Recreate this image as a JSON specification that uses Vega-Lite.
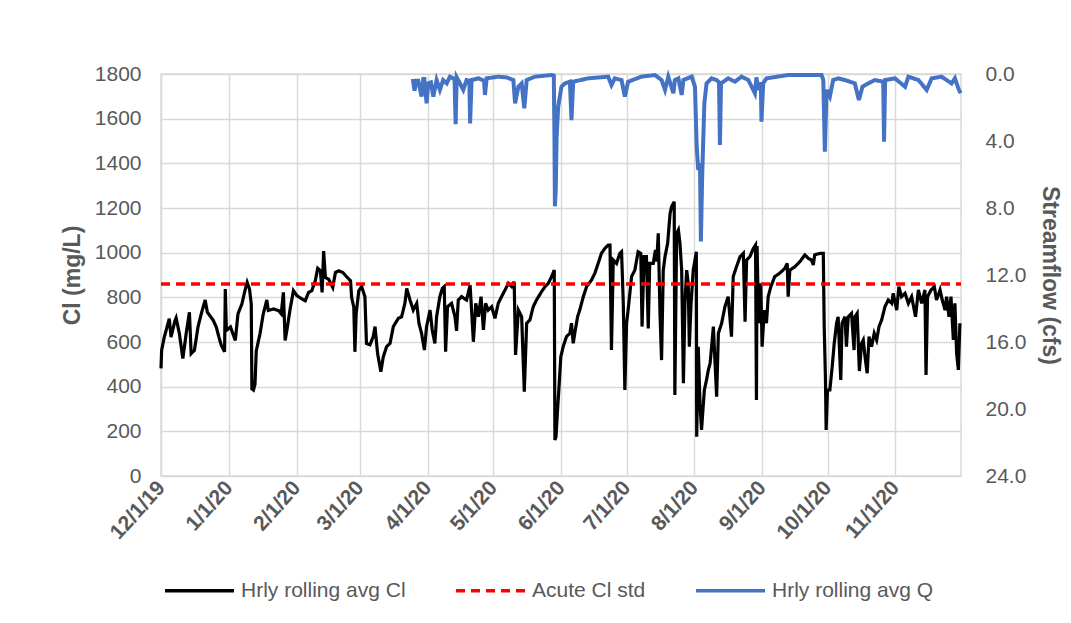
{
  "$schema": "https://vega.github.io/schema/vega-lite/v6.json",
  "width": 800,
  "height": 402,
  "autosize": "none",
  "padding": {"left": 161, "top": 74, "right": 110, "bottom": 147},
  "background": "white",
  "config": {
    "font": "Liberation Sans",
    "view": {"stroke": "#d9d9d9", "strokeWidth": 1.5},
    "axis": {
      "labelColor": "#595959", "titleColor": "#595959",
      "labelFont": "Liberation Sans", "titleFont": "Liberation Sans",
      "labelFontSize": 21, "titleFontSize": 23, "titleFontWeight": "bold",
      "gridColor": "#d9d9d9", "gridWidth": 1.5,
      "ticks": false, "tickSize": 0, "domain": false
    }
  },
  "datasets": {
    "cl": [
      {"date":"2019-12-01T00:00","value":482},{"date":"2019-12-01T07:00","value":563},{"date":"2019-12-02T12:00","value":622},{"date":"2019-12-04T19:00","value":704},{"date":"2019-12-05T14:00","value":622},{"date":"2019-12-07T10:00","value":696},{"date":"2019-12-07T22:00","value":708},{"date":"2019-12-09T10:00","value":637},{"date":"2019-12-11T00:00","value":526},{"date":"2019-12-12T12:00","value":637},{"date":"2019-12-14T00:00","value":733},{"date":"2019-12-14T19:00","value":548},{"date":"2019-12-16T07:00","value":563},{"date":"2019-12-17T22:00","value":667},{"date":"2019-12-19T10:00","value":726},{"date":"2019-12-21T05:00","value":788},{"date":"2019-12-22T05:00","value":733},{"date":"2019-12-24T19:00","value":699},{"date":"2019-12-26T07:00","value":667},{"date":"2019-12-27T12:00","value":622},{"date":"2019-12-28T14:00","value":585},{"date":"2019-12-30T02:00","value":556},{"date":"2019-12-30T10:00","value":837},{"date":"2019-12-30T22:00","value":652},{"date":"2020-01-01T19:00","value":667},{"date":"2020-01-04T00:00","value":607},{"date":"2020-01-05T05:00","value":726},{"date":"2020-01-07T00:00","value":770},{"date":"2020-01-08T05:00","value":822},{"date":"2020-01-09T10:00","value":867},{"date":"2020-01-10T12:00","value":837},{"date":"2020-01-11T07:00","value":770},{"date":"2020-01-11T14:00","value":390},{"date":"2020-01-12T07:00","value":385},{"date":"2020-01-13T00:00","value":410},{"date":"2020-01-13T14:00","value":560},{"date":"2020-01-15T07:00","value":637},{"date":"2020-01-16T19:00","value":726},{"date":"2020-01-18T10:00","value":788},{"date":"2020-01-19T02:00","value":741},{"date":"2020-01-21T10:00","value":748},{"date":"2020-01-23T17:00","value":741},{"date":"2020-01-25T00:00","value":726},{"date":"2020-01-26T00:00","value":822},{"date":"2020-01-26T19:00","value":607},{"date":"2020-01-27T14:00","value":652},{"date":"2020-01-29T02:00","value":748},{"date":"2020-01-30T14:00","value":830},{"date":"2020-02-01T05:00","value":807},{"date":"2020-02-03T12:00","value":793},{"date":"2020-02-05T00:00","value":785},{"date":"2020-02-06T12:00","value":822},{"date":"2020-02-08T00:00","value":830},{"date":"2020-02-09T14:00","value":874},{"date":"2020-02-10T17:00","value":930},{"date":"2020-02-11T22:00","value":919},{"date":"2020-02-12T17:00","value":822},{"date":"2020-02-13T10:00","value":1007},{"date":"2020-02-14T05:00","value":889},{"date":"2020-02-15T17:00","value":881},{"date":"2020-02-17T14:00","value":844},{"date":"2020-02-18T19:00","value":911},{"date":"2020-02-20T07:00","value":919},{"date":"2020-02-22T05:00","value":911},{"date":"2020-02-24T05:00","value":889},{"date":"2020-02-25T17:00","value":874},{"date":"2020-02-26T05:00","value":800},{"date":"2020-02-27T05:00","value":756},{"date":"2020-02-27T17:00","value":556},{"date":"2020-02-28T07:00","value":726},{"date":"2020-02-29T12:00","value":830},{"date":"2020-03-01T19:00","value":848},{"date":"2020-03-03T07:00","value":803},{"date":"2020-03-04T00:00","value":594},{"date":"2020-03-05T14:00","value":587},{"date":"2020-03-07T02:00","value":624},{"date":"2020-03-07T22:00","value":669},{"date":"2020-03-09T02:00","value":549},{"date":"2020-03-10T14:00","value":467},{"date":"2020-03-11T17:00","value":534},{"date":"2020-03-13T05:00","value":579},{"date":"2020-03-14T19:00","value":594},{"date":"2020-03-16T07:00","value":669},{"date":"2020-03-18T14:00","value":706},{"date":"2020-03-20T02:00","value":713},{"date":"2020-03-21T14:00","value":773},{"date":"2020-03-22T10:00","value":840},{"date":"2020-03-23T22:00","value":788},{"date":"2020-03-25T10:00","value":743},{"date":"2020-03-27T00:00","value":773},{"date":"2020-03-28T00:00","value":684},{"date":"2020-03-29T05:00","value":639},{"date":"2020-03-30T12:00","value":564},{"date":"2020-03-31T12:00","value":669},{"date":"2020-04-02T02:00","value":743},{"date":"2020-04-03T02:00","value":654},{"date":"2020-04-04T07:00","value":594},{"date":"2020-04-05T02:00","value":713},{"date":"2020-04-06T14:00","value":803},{"date":"2020-04-07T17:00","value":840},{"date":"2020-04-08T14:00","value":848},{"date":"2020-04-09T05:00","value":557},{"date":"2020-04-10T02:00","value":758},{"date":"2020-04-11T22:00","value":773},{"date":"2020-04-13T12:00","value":713},{"date":"2020-04-14T05:00","value":650},{"date":"2020-04-15T00:00","value":788},{"date":"2020-04-16T12:00","value":803},{"date":"2020-04-18T19:00","value":788},{"date":"2020-04-20T10:00","value":855},{"date":"2020-04-21T02:00","value":743},{"date":"2020-04-21T22:00","value":601},{"date":"2020-04-23T00:00","value":773},{"date":"2020-04-24T05:00","value":713},{"date":"2020-04-25T10:00","value":803},{"date":"2020-04-26T12:00","value":654},{"date":"2020-04-27T12:00","value":773},{"date":"2020-04-28T17:00","value":743},{"date":"2020-04-30T07:00","value":758},{"date":"2020-05-01T19:00","value":706},{"date":"2020-05-03T07:00","value":773},{"date":"2020-05-04T19:00","value":803},{"date":"2020-05-06T10:00","value":833},{"date":"2020-05-07T22:00","value":863},{"date":"2020-05-09T10:00","value":848},{"date":"2020-05-10T14:00","value":870},{"date":"2020-05-11T05:00","value":542},{"date":"2020-05-12T12:00","value":743},{"date":"2020-05-14T00:00","value":713},{"date":"2020-05-15T05:00","value":378},{"date":"2020-05-16T07:00","value":684},{"date":"2020-05-17T19:00","value":699},{"date":"2020-05-19T07:00","value":758},{"date":"2020-05-20T19:00","value":788},{"date":"2020-05-23T02:00","value":825},{"date":"2020-05-24T17:00","value":848},{"date":"2020-05-26T05:00","value":863},{"date":"2020-05-27T17:00","value":893},{"date":"2020-05-28T22:00","value":922},{"date":"2020-05-29T05:00","value":161},{"date":"2020-05-29T17:00","value":176},{"date":"2020-05-30T10:00","value":295},{"date":"2020-05-31T00:00","value":385},{"date":"2020-05-31T22:00","value":534},{"date":"2020-06-02T00:00","value":579},{"date":"2020-06-03T12:00","value":624},{"date":"2020-06-05T02:00","value":639},{"date":"2020-06-05T19:00","value":684},{"date":"2020-06-06T14:00","value":594},{"date":"2020-06-07T07:00","value":639},{"date":"2020-06-08T14:00","value":713},{"date":"2020-06-09T14:00","value":743},{"date":"2020-06-11T05:00","value":803},{"date":"2020-06-12T17:00","value":848},{"date":"2020-06-15T00:00","value":878},{"date":"2020-06-16T12:00","value":908},{"date":"2020-06-18T00:00","value":952},{"date":"2020-06-19T12:00","value":997},{"date":"2020-06-21T02:00","value":1019},{"date":"2020-06-22T14:00","value":1034},{"date":"2020-06-23T10:00","value":1034},{"date":"2020-06-24T02:00","value":564},{"date":"2020-06-24T22:00","value":967},{"date":"2020-06-26T10:00","value":952},{"date":"2020-06-27T22:00","value":997},{"date":"2020-06-28T17:00","value":1004},{"date":"2020-06-29T12:00","value":773},{"date":"2020-06-30T05:00","value":385},{"date":"2020-07-01T00:00","value":684},{"date":"2020-07-01T17:00","value":743},{"date":"2020-07-03T07:00","value":893},{"date":"2020-07-04T19:00","value":922},{"date":"2020-07-06T07:00","value":1004},{"date":"2020-07-07T12:00","value":997},{"date":"2020-07-08T02:00","value":669},{"date":"2020-07-09T00:00","value":982},{"date":"2020-07-10T02:00","value":982},{"date":"2020-07-10T22:00","value":661},{"date":"2020-07-11T14:00","value":952},{"date":"2020-07-13T05:00","value":952},{"date":"2020-07-14T05:00","value":1012},{"date":"2020-07-14T19:00","value":960},{"date":"2020-07-15T12:00","value":1087},{"date":"2020-07-16T07:00","value":728},{"date":"2020-07-17T00:00","value":519},{"date":"2020-07-17T19:00","value":922},{"date":"2020-07-18T14:00","value":982},{"date":"2020-07-19T19:00","value":1042},{"date":"2020-07-20T22:00","value":1176},{"date":"2020-07-21T14:00","value":1206},{"date":"2020-07-22T10:00","value":1221},{"date":"2020-07-22T19:00","value":1228},{"date":"2020-07-23T02:00","value":363},{"date":"2020-07-23T22:00","value":1087},{"date":"2020-07-24T17:00","value":1102},{"date":"2020-07-25T10:00","value":1042},{"date":"2020-07-26T05:00","value":922},{"date":"2020-07-27T00:00","value":415},{"date":"2020-07-27T17:00","value":773},{"date":"2020-07-28T12:00","value":922},{"date":"2020-07-29T05:00","value":863},{"date":"2020-07-29T17:00","value":579},{"date":"2020-07-30T12:00","value":773},{"date":"2020-07-31T12:00","value":922},{"date":"2020-08-01T07:00","value":967},{"date":"2020-08-01T22:00","value":1004},{"date":"2020-08-02T02:00","value":176},{"date":"2020-08-02T19:00","value":579},{"date":"2020-08-03T14:00","value":325},{"date":"2020-08-04T07:00","value":206},{"date":"2020-08-05T14:00","value":385},{"date":"2020-08-06T14:00","value":430},{"date":"2020-08-07T10:00","value":475},{"date":"2020-08-08T05:00","value":504},{"date":"2020-08-08T22:00","value":579},{"date":"2020-08-09T17:00","value":669},{"date":"2020-08-10T10:00","value":519},{"date":"2020-08-11T05:00","value":355},{"date":"2020-08-12T00:00","value":639},{"date":"2020-08-13T12:00","value":684},{"date":"2020-08-15T00:00","value":758},{"date":"2020-08-16T12:00","value":803},{"date":"2020-08-18T00:00","value":624},{"date":"2020-08-18T19:00","value":893},{"date":"2020-08-20T07:00","value":937},{"date":"2020-08-21T22:00","value":982},{"date":"2020-08-23T10:00","value":997},{"date":"2020-08-24T05:00","value":691},{"date":"2020-08-24T22:00","value":967},{"date":"2020-08-26T10:00","value":982},{"date":"2020-08-28T00:00","value":1019},{"date":"2020-08-29T00:00","value":1034},{"date":"2020-08-29T10:00","value":340},{"date":"2020-08-29T17:00","value":1030},{"date":"2020-08-30T05:00","value":773},{"date":"2020-08-30T17:00","value":684},{"date":"2020-08-31T10:00","value":863},{"date":"2020-09-01T00:00","value":579},{"date":"2020-09-02T00:00","value":743},{"date":"2020-09-03T00:00","value":684},{"date":"2020-09-03T19:00","value":803},{"date":"2020-09-05T00:00","value":848},{"date":"2020-09-06T19:00","value":893},{"date":"2020-09-09T02:00","value":908},{"date":"2020-09-11T10:00","value":930},{"date":"2020-09-12T12:00","value":952},{"date":"2020-09-12T22:00","value":803},{"date":"2020-09-13T17:00","value":922},{"date":"2020-09-16T00:00","value":937},{"date":"2020-09-18T07:00","value":960},{"date":"2020-09-20T14:00","value":990},{"date":"2020-09-22T02:00","value":975},{"date":"2020-09-23T14:00","value":967},{"date":"2020-09-24T10:00","value":945},{"date":"2020-09-25T02:00","value":990},{"date":"2020-09-27T10:00","value":997},{"date":"2020-09-29T00:00","value":997},{"date":"2020-09-29T10:00","value":669},{"date":"2020-09-30T00:00","value":430},{"date":"2020-09-30T07:00","value":206},{"date":"2020-09-30T22:00","value":385},{"date":"2020-10-02T00:00","value":385},{"date":"2020-10-03T02:00","value":490},{"date":"2020-10-04T00:00","value":594},{"date":"2020-10-05T02:00","value":684},{"date":"2020-10-05T19:00","value":713},{"date":"2020-10-07T00:00","value":430},{"date":"2020-10-07T14:00","value":684},{"date":"2020-10-08T22:00","value":713},{"date":"2020-10-09T14:00","value":579},{"date":"2020-10-10T10:00","value":713},{"date":"2020-10-11T22:00","value":728},{"date":"2020-10-13T02:00","value":564},{"date":"2020-10-13T12:00","value":713},{"date":"2020-10-14T12:00","value":728},{"date":"2020-10-15T12:00","value":470},{"date":"2020-10-16T12:00","value":594},{"date":"2020-10-17T07:00","value":609},{"date":"2020-10-18T02:00","value":534},{"date":"2020-10-19T02:00","value":460},{"date":"2020-10-19T22:00","value":624},{"date":"2020-10-21T02:00","value":579},{"date":"2020-10-22T07:00","value":639},{"date":"2020-10-23T10:00","value":609},{"date":"2020-10-24T12:00","value":669},{"date":"2020-10-25T17:00","value":699},{"date":"2020-10-27T05:00","value":758},{"date":"2020-10-28T17:00","value":788},{"date":"2020-10-30T07:00","value":773},{"date":"2020-10-31T00:00","value":818},{"date":"2020-11-01T14:00","value":743},{"date":"2020-11-02T14:00","value":848},{"date":"2020-11-03T19:00","value":803},{"date":"2020-11-05T10:00","value":818},{"date":"2020-11-06T22:00","value":773},{"date":"2020-11-08T10:00","value":803},{"date":"2020-11-10T05:00","value":713},{"date":"2020-11-11T12:00","value":833},{"date":"2020-11-13T00:00","value":773},{"date":"2020-11-14T12:00","value":833},{"date":"2020-11-15T00:00","value":452},{"date":"2020-11-15T17:00","value":803},{"date":"2020-11-17T07:00","value":833},{"date":"2020-11-18T19:00","value":848},{"date":"2020-11-19T19:00","value":788},{"date":"2020-11-21T10:00","value":833},{"date":"2020-11-22T10:00","value":788},{"date":"2020-11-23T17:00","value":743},{"date":"2020-11-24T10:00","value":803},{"date":"2020-11-25T12:00","value":713},{"date":"2020-11-26T10:00","value":803},{"date":"2020-11-27T12:00","value":609},{"date":"2020-11-28T05:00","value":773},{"date":"2020-11-29T00:00","value":549},{"date":"2020-11-29T19:00","value":475},{"date":"2020-11-30T12:00","value":684}
    ],
    "std": [
      {"date":"2019-12-01T00:00","value":860},{"date":"2020-12-01T00:00","value":860}
    ],
    "q": [
      {"date":"2020-03-25T05:00","value":0.3},{"date":"2020-03-26T00:00","value":1.0},{"date":"2020-03-26T19:00","value":0.4},{"date":"2020-03-27T17:00","value":0.4},{"date":"2020-03-29T05:00","value":1.35},{"date":"2020-03-30T00:00","value":0.3},{"date":"2020-03-30T12:00","value":0.3},{"date":"2020-03-31T12:00","value":1.75},{"date":"2020-04-01T07:00","value":0.56},{"date":"2020-04-02T12:00","value":0.5},{"date":"2020-04-03T14:00","value":1.35},{"date":"2020-04-05T02:00","value":0.36},{"date":"2020-04-06T14:00","value":0.95},{"date":"2020-04-08T02:00","value":0.36},{"date":"2020-04-09T17:00","value":0.56},{"date":"2020-04-11T05:00","value":0.16},{"date":"2020-04-13T07:00","value":0.3},{"date":"2020-04-13T19:00","value":3.0},{"date":"2020-04-14T07:00","value":0.2},{"date":"2020-04-15T19:00","value":0.56},{"date":"2020-04-17T07:00","value":0.95},{"date":"2020-04-18T19:00","value":0.36},{"date":"2020-04-20T02:00","value":0.4},{"date":"2020-04-20T10:00","value":2.95},{"date":"2020-04-21T02:00","value":0.36},{"date":"2020-04-24T05:00","value":0.26},{"date":"2020-04-26T19:00","value":0.4},{"date":"2020-04-27T05:00","value":1.25},{"date":"2020-04-28T00:00","value":0.26},{"date":"2020-05-03T07:00","value":0.16},{"date":"2020-05-07T00:00","value":0.2},{"date":"2020-05-10T05:00","value":0.36},{"date":"2020-05-11T00:00","value":1.75},{"date":"2020-05-12T12:00","value":0.76},{"date":"2020-05-14T00:00","value":0.56},{"date":"2020-05-15T05:00","value":2.05},{"date":"2020-05-16T07:00","value":0.36},{"date":"2020-05-20T02:00","value":0.16},{"date":"2020-05-27T17:00","value":0.06},{"date":"2020-05-28T17:00","value":0.1},{"date":"2020-05-29T00:00","value":3.7},{"date":"2020-05-29T05:00","value":7.9},{"date":"2020-05-29T14:00","value":7.0},{"date":"2020-05-30T00:00","value":3.74},{"date":"2020-05-30T17:00","value":1.95},{"date":"2020-06-01T05:00","value":0.76},{"date":"2020-06-02T19:00","value":0.56},{"date":"2020-06-05T02:00","value":0.46},{"date":"2020-06-05T19:00","value":2.75},{"date":"2020-06-06T14:00","value":0.46},{"date":"2020-06-13T10:00","value":0.26},{"date":"2020-06-22T14:00","value":0.16},{"date":"2020-06-24T02:00","value":0.66},{"date":"2020-06-25T14:00","value":0.26},{"date":"2020-06-28T17:00","value":0.36},{"date":"2020-06-30T05:00","value":1.35},{"date":"2020-07-01T17:00","value":0.46},{"date":"2020-07-07T19:00","value":0.16},{"date":"2020-07-14T00:00","value":0.06},{"date":"2020-07-17T00:00","value":0.36},{"date":"2020-07-18T14:00","value":0.95},{"date":"2020-07-20T02:00","value":0.16},{"date":"2020-07-22T10:00","value":1.15},{"date":"2020-07-23T02:00","value":0.36},{"date":"2020-07-24T17:00","value":0.26},{"date":"2020-07-26T05:00","value":1.25},{"date":"2020-07-27T00:00","value":0.36},{"date":"2020-07-30T19:00","value":0.16},{"date":"2020-08-01T07:00","value":0.76},{"date":"2020-08-02T02:00","value":4.34},{"date":"2020-08-02T19:00","value":5.73},{"date":"2020-08-03T14:00","value":5.33},{"date":"2020-08-04T00:00","value":10.0},{"date":"2020-08-04T14:00","value":6.13},{"date":"2020-08-05T14:00","value":1.75},{"date":"2020-08-06T14:00","value":0.56},{"date":"2020-08-08T22:00","value":0.26},{"date":"2020-08-11T05:00","value":0.36},{"date":"2020-08-12T07:00","value":0.5},{"date":"2020-08-12T17:00","value":4.24},{"date":"2020-08-13T05:00","value":0.56},{"date":"2020-08-16T12:00","value":0.26},{"date":"2020-08-19T14:00","value":0.46},{"date":"2020-08-22T14:00","value":0.16},{"date":"2020-08-25T17:00","value":0.36},{"date":"2020-08-28T17:00","value":1.15},{"date":"2020-08-29T10:00","value":0.2},{"date":"2020-08-30T05:00","value":0.95},{"date":"2020-08-31T10:00","value":0.5},{"date":"2020-08-31T17:00","value":2.85},{"date":"2020-09-01T12:00","value":0.56},{"date":"2020-09-03T00:00","value":0.26},{"date":"2020-09-12T22:00","value":0.06},{"date":"2020-09-28T05:00","value":0.06},{"date":"2020-09-29T00:00","value":0.36},{"date":"2020-09-29T17:00","value":4.64},{"date":"2020-09-30T12:00","value":0.95},{"date":"2020-10-02T00:00","value":1.35},{"date":"2020-10-03T12:00","value":0.36},{"date":"2020-10-05T19:00","value":0.26},{"date":"2020-10-08T22:00","value":0.36},{"date":"2020-10-13T10:00","value":0.56},{"date":"2020-10-15T07:00","value":1.55},{"date":"2020-10-16T22:00","value":0.76},{"date":"2020-10-19T14:00","value":0.56},{"date":"2020-10-22T14:00","value":0.36},{"date":"2020-10-26T10:00","value":0.46},{"date":"2020-10-26T19:00","value":4.04},{"date":"2020-10-27T07:00","value":0.36},{"date":"2020-10-31T19:00","value":0.26},{"date":"2020-11-05T10:00","value":0.76},{"date":"2020-11-06T22:00","value":0.16},{"date":"2020-11-11T12:00","value":0.36},{"date":"2020-11-15T07:00","value":0.95},{"date":"2020-11-17T14:00","value":0.26},{"date":"2020-11-22T02:00","value":0.16},{"date":"2020-11-26T17:00","value":0.56},{"date":"2020-11-28T05:00","value":0.26},{"date":"2020-11-29T19:00","value":0.86},{"date":"2020-11-30T19:00","value":1.15}
    ]
  },
  "encoding": {
    "x": {
      "field": "date", "type": "temporal",
      "scale": {"domain": [{"year": 2019, "month": 12, "date": 1}, {"year": 2020, "month": 12, "date": 1}]},
      "axis": {
        "title": null, "format": "%-m/%-d/%y", "labelAngle": -48, "labelFontWeight": "bold",
        "labelOverlap": false, "labelFlush": false, "labelPadding": 8, "grid": true,
        "values": [
          {"year": 2019, "month": 12, "date": 1}, {"year": 2020, "month": 1, "date": 1},
          {"year": 2020, "month": 2, "date": 1}, {"year": 2020, "month": 3, "date": 1},
          {"year": 2020, "month": 4, "date": 1}, {"year": 2020, "month": 5, "date": 1},
          {"year": 2020, "month": 6, "date": 1}, {"year": 2020, "month": 7, "date": 1},
          {"year": 2020, "month": 8, "date": 1}, {"year": 2020, "month": 9, "date": 1},
          {"year": 2020, "month": 10, "date": 1}, {"year": 2020, "month": 11, "date": 1}
        ]
      }
    },
    "color": {
      "field": "series", "type": "nominal",
      "scale": {"domain": ["Hrly rolling avg Cl", "Acute Cl std", "Hrly rolling avg Q"], "range": ["#000000", "#ff0000", "#4472c4"]},
      "legend": {
        "title": null, "orient": "none", "legendX": 2, "legendY": 480, "direction": "horizontal",
        "symbolType": "stroke", "symbolSize": 4761, "symbolStrokeWidth": 3.5,
        "labelFontSize": 21, "labelColor": "#595959", "labelFont": "Liberation Sans",
        "labelOffset": 5, "columnPadding": 43, "padding": 0, "labelLimit": 400
      }
    },
    "strokeDash": {
      "field": "series", "type": "nominal",
      "scale": {"domain": ["Hrly rolling avg Cl", "Acute Cl std", "Hrly rolling avg Q"], "range": [[1, 0], [9, 6], [1, 0]]},
      "legend": {
        "title": null, "orient": "none", "legendX": 2, "legendY": 480, "direction": "horizontal",
        "symbolType": "stroke", "symbolSize": 4761, "symbolStrokeWidth": 3.5,
        "labelFontSize": 21, "labelColor": "#595959", "labelFont": "Liberation Sans",
        "labelOffset": 5, "columnPadding": 43, "padding": 0, "labelLimit": 400
      }
    }
  },
  "layer": [
    {
      "encoding": {
        "y": {
          "field": "value", "type": "quantitative",
          "scale": {"domain": [0, 1800]},
          "axis": {"title": "Cl (mg/L)", "format": "d", "values": [0, 200, 400, 600, 800, 1000, 1200, 1400, 1600, 1800], "labelPadding": 20, "titlePadding": 10, "grid": true}
        }
      },
      "layer": [
        {
          "data": {"name": "cl"},
          "transform": [{"calculate": "'Hrly rolling avg Cl'", "as": "series"}],
          "mark": {"type": "line", "strokeWidth": 3.2}
        },
        {
          "data": {"name": "std"},
          "transform": [{"calculate": "'Acute Cl std'", "as": "series"}],
          "mark": {"type": "line", "strokeWidth": 3.5}
        }
      ]
    },
    {
      "data": {"name": "q"},
      "transform": [{"calculate": "'Hrly rolling avg Q'", "as": "series"}],
      "mark": {"type": "line", "strokeWidth": 4},
      "encoding": {
        "y": {
          "field": "value", "type": "quantitative",
          "scale": {"domain": [0, 24], "reverse": true},
          "axis": {"title": "Streamflow (cfs)", "orient": "right", "format": ".1f", "values": [0, 4, 8, 12, 16, 20, 24], "labelPadding": 24, "titlePadding": 12, "grid": false}
        }
      }
    }
  ],
  "resolve": {"scale": {"y": "independent"}}
}
